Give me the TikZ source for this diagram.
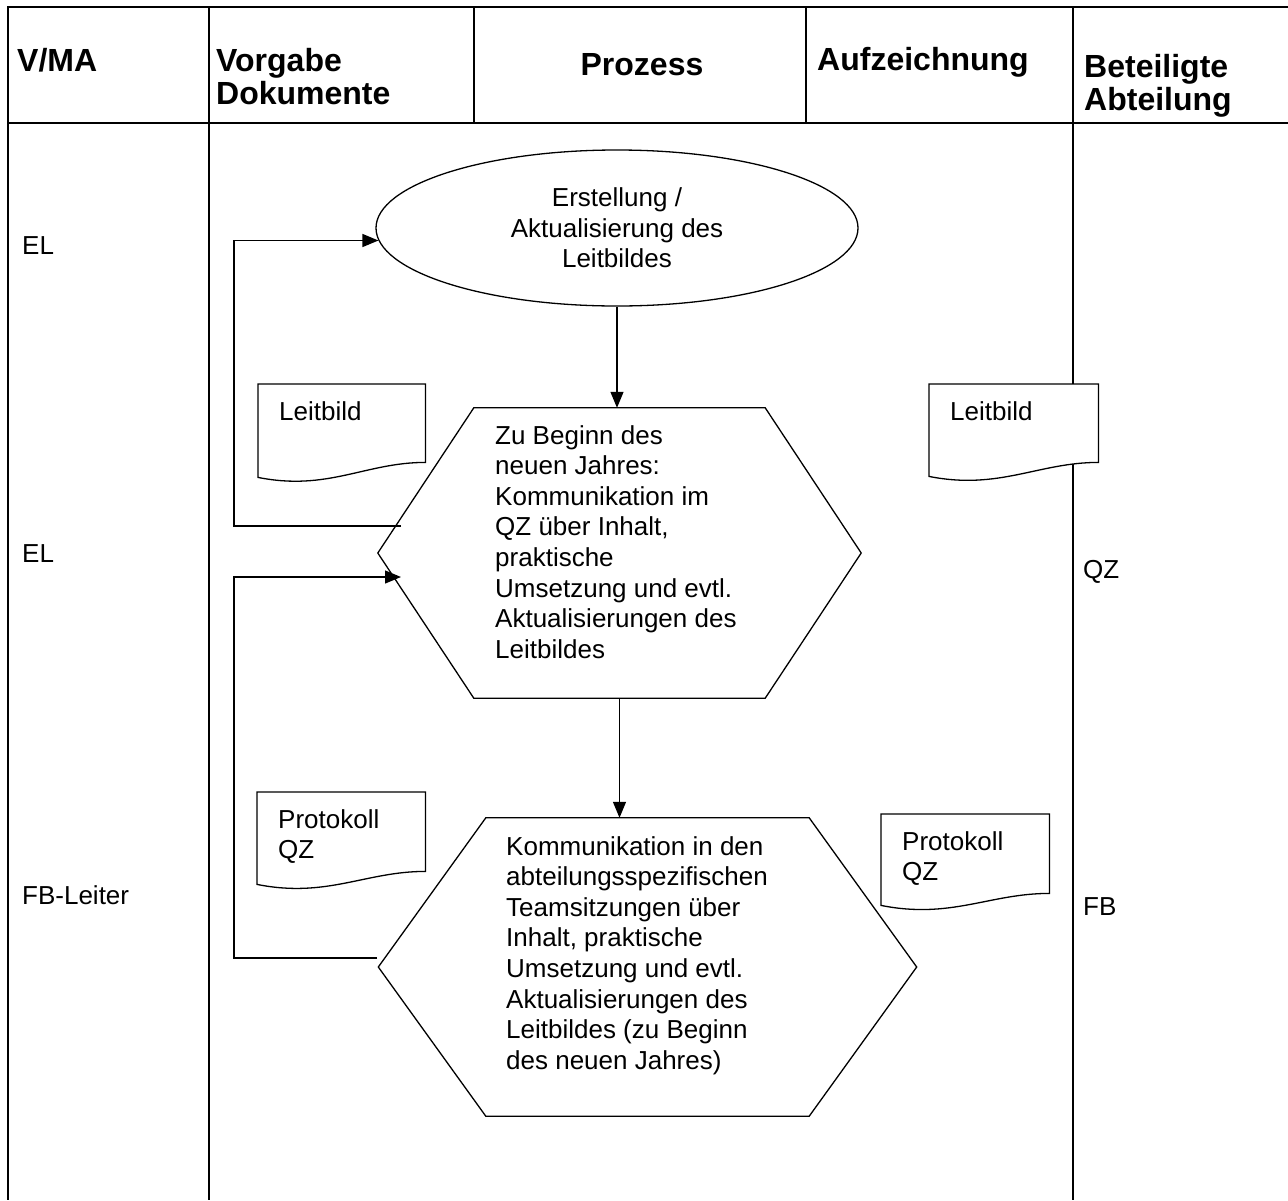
\documentclass[tikz,border=0pt]{standalone}
\usepackage{fontspec}
\setmainfont{Liberation Sans}
\usetikzlibrary{shapes.geometric, arrows.meta}

\newcommand{\bodyfont}{\fontsize{26}{30.6}\selectfont}
\newcommand{\headfont}{\fontsize{32}{33}\selectfont\bfseries}

% hexagon round a plain rectangular node
\newcommand{\hexframe}[2]{%
  \draw[flow] (#1.north west) -- (#1.north east) -- ([xshift=#2]#1.east)
    -- (#1.south east) -- (#1.south west) -- ([xshift=-#2]#1.west) -- cycle;
}

% document symbol with wavy lower edge
\newcommand{\docnode}[6]{%
  \node[docbox, minimum width=#3, minimum height=#4, anchor=north west] (#1) at (#2) {};
  \draw[flow, fill=white] (#1.north west) -- (#1.north east) -- (#1.south east)
    .. controls +(-60,0) and +(70,14) .. ([yshift=-#5]#1.south west) -- cycle;
  \node[doctext] (#1t) at ([shift={(21,17)}]#1.north west) {#6};
}

\tikzset{
  rulethick/.style={line width=2.4pt},
  rulethin/.style={line width=1.2pt},
  flow/.style={line width=1.3pt},
  arr/.style={flow, -{Triangle[length=16pt,width=13pt]}},
  head/.style={font=\headfont, inner sep=0pt, align=left, anchor=north west},
  lbl/.style={font=\bodyfont, inner sep=0pt, anchor=base west},
  proc/.style={font=\bodyfont, inner sep=0pt, align=left, anchor=north west},
  docbox/.style={inner sep=0pt},
  doctext/.style={font=\bodyfont, inner sep=0pt, align=left, anchor=north west},
  hexbox/.style={inner sep=0pt},
}

\begin{document}
\begin{tikzpicture}[x=1pt, y=-1pt]
  \useasboundingbox (0,0) rectangle (1288,1200);

  % table frame
  \draw[rulethick] (1288,7) -- (8,7) -- (8,1200);
  \draw[rulethick] (8,123) -- (1288,123);
  \draw[rulethick] (209,7) -- (209,1200);
  \draw[rulethick] (1073,7) -- (1073,1200);
  \draw[rulethin] (474,7) -- (474,123);
  \draw[rulethin] (806,7) -- (806,123);

  % column heads
  \node[head] (hVMA) at (17,48) {V/MA};
  \node[head] (hVorgabe) at (216,48) {Vorgabe\\Dokumente};
  \node[head, anchor=north] (hProzess) at (642,53) {Prozess};
  \node[head] (hAufz) at (817,47) {Aufzeichnung};
  \node[head] (hBeteil) at (1084,54) {Beteiligte\\Abteilung};

  % lane labels
  \node[lbl] (vEL1) at (22,254) {EL};
  \node[lbl] (vEL2) at (22,562) {EL};
  \node[lbl] (vFB) at (22,904) {FB-Leiter};
  \node[lbl] (bQZ) at (1083,578) {QZ};
  \node[lbl] (bFB) at (1083,915) {FB};

  % process
  \node[ellipse, draw, flow, minimum width=482pt, minimum height=156pt, inner sep=0pt,
        font=\bodyfont, align=center] (start) at (617,228)
        {Erstellung /\\Aktualisierung des\\Leitbildes};

  \node[hexbox, minimum width=291pt, minimum height=290pt] (hexA) at (619.5,553) {};
  \hexframe{hexA}{96pt}
  \node[proc] (hexAtxt) at (495,425) {Zu Beginn des\\neuen Jahres:\\Kommunikation im\\QZ über Inhalt,\\praktische\\Umsetzung und evtl.\\Aktualisierungen des\\Leitbildes};

  \node[hexbox, minimum width=323pt, minimum height=298pt] (hexB) at (647.5,967) {};
  \hexframe{hexB}{107.5pt}
  \node[proc] (hexBtxt) at (506,836) {Kommunikation in den\\abteilungsspezifischen\\Teamsitzungen über\\Inhalt, praktische\\Umsetzung und evtl.\\Aktualisierungen des\\Leitbildes (zu Beginn\\des neuen Jahres)};

  % connectors
  \coordinate (backA) at (401,526);
  \coordinate (backB) at (377,958);
  \coordinate (intoA) at (401,577);
  \draw[arr] (start.south) -- (start.south |- hexA.north);
  \draw[arr] (hexA.south) -- (hexA.south |- hexB.north);
  \draw[arr] (backA) -- (234,526) |- (start.183);
  \draw[arr] (backB) -- (234,958) |- (intoA);

  % documents
  \docnode{docA}{258,384}{167pt}{78pt}{15pt}{Leitbild}
  \docnode{docB}{929,384}{169pt}{78pt}{14pt}{Leitbild}
  \docnode{docC}{257,792}{168pt}{79pt}{13pt}{Protokoll\\QZ}
  \docnode{docD}{881,814}{168pt}{79pt}{12pt}{Protokoll\\QZ}
\end{tikzpicture}
\end{document}
